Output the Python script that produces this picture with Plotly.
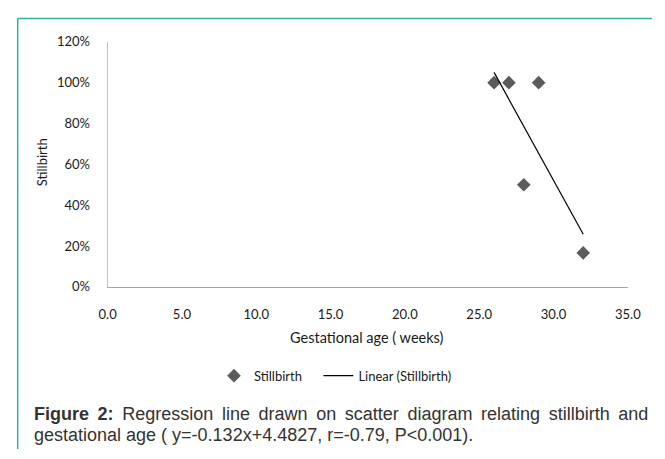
import numpy as np
import plotly.graph_objects as go

# Data
gest_age = [26, 27, 29, 28, 32]
stillbirth = [1.0, 1.0, 1.0, 0.5, 1/6]
series_name = "Stillbirth"
trend_name = "Linear (Stillbirth)"
x_title = "Gestational age ( weeks)"
y_title = "Stillbirth"
caption_line1_words = ["<b>Figure", "2:</b>", "Regression", "line", "drawn", "on", "scatter",
                       "diagram", "relating", "stillbirth", "and"]
caption_line2 = "gestational age ( y=-0.132x+4.4827, r=-0.79, P<0.001)."

W, H = 665, 459


def fx(x):  # page pixel -> paper fraction
    return x / W


def fy(y):
    return 1 - y / H


slope, intercept = np.polyfit(gest_age, stillbirth, 1)
tx = np.array([min(gest_age), max(gest_age)])
ty = slope * tx + intercept

chart_font = "Lato, Open Sans, sans-serif"
cap_font = dict(family="Liberation Sans, Arial, sans-serif", size=18, color="#333333")
# justified first caption line: widen each word gap with a thin space
caption_line1 = " \u2009".join(caption_line1_words)

fig = go.Figure()
fig.add_trace(go.Scatter(
    x=gest_age, y=stillbirth, mode="markers", name=series_name, legend="legend",
    marker=dict(symbol="diamond", size=10.5, color="#5b5b5b"),
))
fig.add_trace(go.Scatter(
    x=tx, y=ty, mode="lines", name=trend_name, legend="legend2",
    line=dict(color="black", width=1.2),
))

fig.update_layout(
    width=W, height=H,
    margin=dict(l=0, r=0, t=0, b=0),
    paper_bgcolor="white", plot_bgcolor="white",
    font=dict(family=chart_font, size=13, color="#1a1a1a"),
    showlegend=True,
    legend=dict(orientation="h", x=fx(212), y=fy(381), xanchor="left", yanchor="middle",
                font=dict(size=13), bgcolor="rgba(0,0,0,0)"),
    legend2=dict(orientation="h", x=fx(320), y=fy(381), xanchor="left", yanchor="middle",
                 font=dict(size=13), bgcolor="rgba(0,0,0,0)"),
    xaxis=dict(domain=[fx(102), fx(640)], range=[0, 35], dtick=5, tickformat=".1f",
               showline=True, linecolor="#a6a6a6", linewidth=1, showgrid=False,
               zeroline=False, ticks="", ticklabelstandoff=15),
    yaxis=dict(domain=[fy(289), fy(35)], range=[0, 1.2], dtick=0.2,
               tickformat=".0%", showline=True, linecolor="#bfbfbf", linewidth=1,
               showgrid=False, zeroline=False, ticks="", ticklabelstandoff=14),
    annotations=[
        dict(text=x_title, xref="paper", yref="paper", x=fx(370), y=fy(341),
             xanchor="center", yanchor="middle", showarrow=False, font=dict(size=14.5)),
        dict(text=y_title, xref="paper", yref="paper", x=fx(35), y=fy(160),
             xanchor="center", yanchor="middle", showarrow=False, textangle=-90,
             font=dict(size=13)),
        dict(text=caption_line1, xref="paper", yref="paper", x=fx(24), y=fy(421),
             xanchor="left", yanchor="middle", showarrow=False, font=cap_font),
        dict(text=caption_line2, xref="paper", yref="paper", x=fx(24), y=fy(442),
             xanchor="left", yanchor="middle", showarrow=False, font=cap_font),
    ],
    shapes=[
        dict(type="line", xref="paper", yref="paper", x0=fx(9), x1=1, y0=fy(11), y1=fy(11),
             line=dict(color="#2bb39e", width=1.5)),
        dict(type="line", xref="paper", yref="paper", x0=fx(9), x1=fx(9), y0=fy(457), y1=fy(11),
             line=dict(color="#2bb39e", width=1.5)),
    ],
)

fig.write_html(
    "out.html",
    config={"displayModeBar": False},
    post_script=("document.documentElement.style.margin='0';"
                 "document.body.style.margin='0';document.body.style.padding='0';"
                 "document.body.style.overflow='hidden';"),
)
